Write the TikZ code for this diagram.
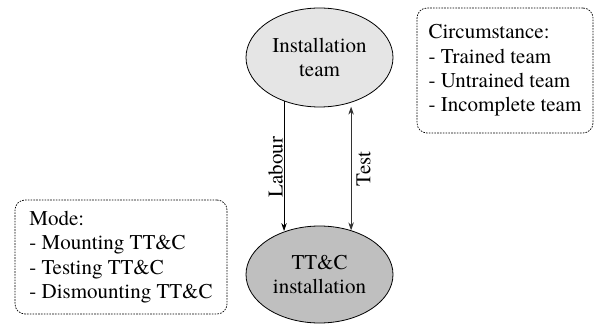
\documentclass[tikz,border=0pt]{standalone}
\usepackage{fontspec}
\setmainfont{TeX Gyre Termes}
\usetikzlibrary{arrows.meta,shapes.geometric}

\tikzset{
  tip/.tip={Stealth[length=8pt,width=5.5pt]},
  unit/.style={ellipse, draw=black, line width=0.8pt, inner sep=0pt,
    minimum width=147pt, align=center},
  notebox/.style={draw=black, line width=0.7pt, rounded corners=10pt,
    dash pattern=on 1.6pt off 1.2pt, align=left, inner sep=0pt},
  flow/.style={line width=0.8pt, arrows={-tip}},
  twoway/.style={line width=0.9pt, draw=black!80, fill=black!80, arrows={tip-tip}},
  lbl/.style={rotate=90, inner sep=0pt}
}

\begin{document}
\begin{tikzpicture}[x=1pt, y=1pt, font=\fontsize{21}{24.3}\selectfont]
  \useasboundingbox (0,0) rectangle (604,324);

  % the two units
  \node[unit, fill=gray!20, minimum height=99pt] (team) at (319.5,266.5)
    {Installation\\team};
  \node[unit, fill=gray!50, minimum height=97pt] (inst) at (319.5,49.5)
    {TT\&C\\installation};

  % flows between them
  \draw[flow] (team.231.7) -- (team.231.7 |- inst.128.9);
  \draw[twoway] ([yshift=-4pt]team.305.2) -- (team.305.2 |- inst.54.2);

  \node[lbl] (labour) at (275.5,157) {Labour};
  \node[lbl] (test) at (363.5,155) {Test};

  % side notes
  \node[notebox, minimum width=176pt, minimum height=125pt] (circ) at (505,253.5)
    {Circumstance:\\- Trained team\\- Untrained team\\- Incomplete team};
  \node[notebox, minimum width=212pt, minimum height=114pt] (mode) at (121,67)
    {Mode:\\- Mounting TT\&C\\- Testing TT\&C\\- Dismounting TT\&C};
\end{tikzpicture}
\end{document}
